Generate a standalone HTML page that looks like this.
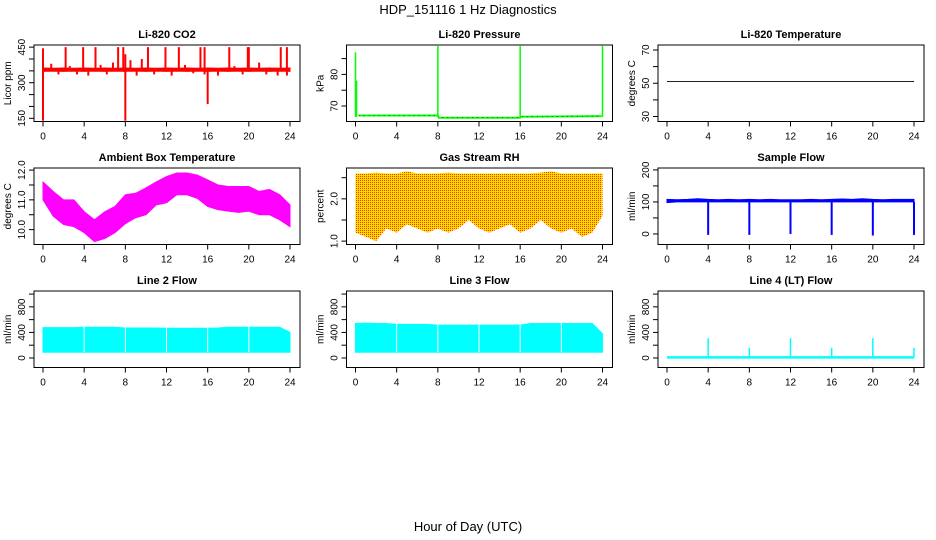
<!DOCTYPE html>
<html><head><meta charset="utf-8"><style>
body{margin:0;background:#fff;}
svg{display:block;font-family:"Liberation Sans",sans-serif;}
</style></head><body>
<svg id="c" width="936" height="540" viewBox="0 0 936 540">
<defs>
<pattern id="rhpat" width="2" height="2" patternUnits="userSpaceOnUse">
<rect width="2" height="2" fill="#ffdd00"/><rect width="1" height="1" fill="#ff3000"/>
</pattern>
</defs>
<text x="468" y="14" text-anchor="middle" font-size="13">HDP_151116  1 Hz Diagnostics</text>
<text x="468" y="531" text-anchor="middle" font-size="13">Hour of Day (UTC)</text>
</svg>
<script>
// ---- data ----
const hourTicks = [0,4,8,12,16,20,24];
const hours = [0,1,2,3,4,5,6,7,8,9,10,11,12,13,14,15,16,17,18,19,20,21,22,23,24];
// CO2
const co2Low = [348,349,348,349,348,349,348,349,348,349,348,349,348,349,348,349,348,349,348,349,348,349,348,349,348];
const co2High = [362,361,362,361,362,361,362,361,362,361,362,361,362,361,362,361,362,361,362,361,362,361,362,361,362];
const co2SpikeHours = [0.0,2.2,3.9,5.1,7.3,7.8,8.0,10.2,11.9,13.2,15.3,15.7,16.0,18.1,19.9,20.0,23.1,23.7];
const co2SpikeHigh = [445,450,450,450,450,450,420,450,450,450,450,450,360,450,450,450,450,450];
const co2SpikeLow = [140,355,355,355,355,350,140,355,355,355,355,335,210,355,355,355,355,330];
const co2MinorHours = [0.8,1.5,2.6,3.3,4.4,5.6,6.2,6.8,8.5,9.1,9.6,10.8,12.5,13.8,14.6,17.0,18.6,19.4,21.0,21.7,22.8];
const co2MinorVals = [380,335,370,335,330,375,335,385,395,330,400,335,330,375,340,330,370,335,385,335,330];
// Pressure
const presHours = [0.3,8.0,8.1,16.0,16.1,23.9];
const presVals = [67.0,67.0,66.3,66.3,66.6,66.8];
const presSpikeHours = [0.0,0.1,8.0,16.0,24.0];
const presSpikeVals = [87,78,89,89,89];
// Temperature
const tempHours = [0,24];
const tempVals = [51,51];
// Ambient
const ambLow = [11.0,10.45,10.17,10.1,9.9,9.6,9.7,9.9,10.2,10.4,10.5,10.83,10.9,11.17,11.17,11.05,10.78,10.67,10.62,10.58,10.62,10.5,10.5,10.33,10.1];
const ambHigh = [11.6,11.28,11.0,11.0,10.6,10.33,10.6,10.78,11.17,11.22,11.4,11.6,11.78,11.9,11.9,11.83,11.67,11.5,11.45,11.45,11.45,11.28,11.35,11.17,10.83];
// RH
const rhHigh = [2.6,2.6,2.62,2.6,2.6,2.65,2.6,2.6,2.6,2.62,2.6,2.6,2.6,2.6,2.6,2.6,2.6,2.6,2.62,2.65,2.6,2.6,2.6,2.6,2.6];
const rhLow = [1.2,1.1,1.0,1.3,1.2,1.4,1.3,1.2,1.3,1.2,1.3,1.5,1.3,1.2,1.3,1.4,1.2,1.3,1.5,1.3,1.2,1.3,1.1,1.2,1.6];
// Sample flow
const sfLow = [98,100,100,100,100,100,100,100,100,100,100,100,100,100,100,100,100,100,100,100,100,100,100,100,100];
const sfHigh = [108,107,108,110,108,107,108,107,108,107,108,107,107,107,108,107,108,109,108,110,108,107,108,108,108];
const sfDipHours = [4,8,12,16,20,24];
const sfDipVals = [-3,-3,0,-3,-5,-3];
// Line flows
const l2Top = [475,475,475,475,480,480,480,480,470,470,470,470,465,465,465,465,465,470,480,480,480,480,480,480,400];
const l2Bot = [90,90,90,90,90,90,90,90,90,90,90,90,90,90,90,90,90,90,90,90,90,90,90,90,90];
const l3Top = [540,545,540,540,525,525,525,525,515,515,515,515,515,515,515,515,515,540,540,540,540,540,540,540,380];
const l3Bot = [90,90,90,90,90,90,90,90,90,90,90,90,90,90,90,90,90,90,90,90,90,90,90,90,90];
const gapHours = [4,8,12,16,20];
const l4Base = 10;
const l4SpikeHours = [4,8,12,16,20,24];
const l4SpikeVals = [310,160,310,160,310,160];

// ---- drawing ----
const svg = document.getElementById('c');
const NS = 'http://www.w3.org/2000/svg';
function el(tag, attrs, name, parent){
  const e = document.createElementNS(NS, tag);
  for (const k in attrs) e.setAttribute(k, attrs[k]);
  
  
  (parent||svg).appendChild(e);
  return e;
}
const colLeft = [34, 346.5, 658];
const rowTop = [45, 168, 291];
const boxW = 266, boxH = 76.5;
function panel(col,row,key,title,ylab,ymin,ymax,ticks,labels){
  const L = colLeft[col], T = rowTop[row], B = T+boxH, R = L+boxW;
  const g = el('g',{},key+'-panel');
  const x = h => L + 9 + h*(247/24);
  const y = v => B - (v-ymin)/(ymax-ymin)*boxH;
  const plot = el('g',{},key+'-series',g);
  el('rect',{x:L,y:T,width:boxW,height:boxH,fill:'none',stroke:'#000','stroke-width':1},key+'-plot-box',g);
  const t = el('text',{x:(L+R)/2,y:T-7,'text-anchor':'middle','font-size':11,'font-weight':'bold'},key+'-title',g);
  t.textContent = title;
  hourTicks.forEach(h=>{
    el('line',{x1:x(h),x2:x(h),y1:B,y2:B+5,stroke:'#000'},key+'-x-tick',g);
    const tt = el('text',{x:x(h),y:B+18,'text-anchor':'middle','font-size':10},key+'-x-tick-label',g);
    tt.textContent = h;
  });
  ticks.forEach(v=>{
    el('line',{x1:L,x2:L-5,y1:y(v),y2:y(v),stroke:'#000'},key+'-y-tick',g);
  });
  labels.forEach(v=>{
    const tt = el('text',{transform:`translate(${L-9},${y(v)}) rotate(-90)`,'text-anchor':'middle','font-size':10},key+'-y-tick-label',g);
    tt.textContent = (key==='amb'||key==='rh') ? v.toFixed(1) : v;
  });
  const yl = el('text',{transform:`translate(${L-23},${(T+B)/2}) rotate(-90)`,'text-anchor':'middle','font-size':10},key+'-y-axis-title',g);
  yl.textContent = ylab;
  return {x,y,g:plot};
}
function band(p,hs,lo,hi,fill,name){
  let d = hs.map((h,i)=>(i?'L':'M')+p.x(h)+','+p.y(hi[i])).join('');
  for(let i=hs.length-1;i>=0;i--) d += 'L'+p.x(hs[i])+','+p.y(lo[i]);
  el('path',{d:d+'Z',fill:fill,stroke:fill==='url(#rhpat)'?'none':fill,'stroke-width':1},name,p.g);
}
function vline(p,h,v1,v2,color,name,w){
  el('line',{x1:p.x(h),x2:p.x(h),y1:p.y(v1),y2:p.y(v2),stroke:color,'stroke-width':w||1.5},name,p.g);
}

// CO2
let p = panel(0,0,'co2','Li-820 CO2','Licor ppm',136.6,459,[150,200,250,300,350,400,450],[150,300,450]);
band(p,hours,co2Low,co2High,'#ff0000','co2-band');
co2SpikeHours.forEach((h,i)=>vline(p,h,co2SpikeLow[i],co2SpikeHigh[i],'#ff0000','co2-spike',2));
co2MinorHours.forEach((h,i)=>vline(p,h,355,co2MinorVals[i],'#ff0000','co2-minor-spike',2));

// Pressure
p = panel(1,0,'pres','Li-820 Pressure','kPa',65.1,89.3,[70,75,80,85],[70,80]);
el('polyline',{points:presHours.map((h,i)=>p.x(h)+','+p.y(presVals[i])).join(' '),fill:'none',stroke:'#00ff00','stroke-width':2},'pressure-line',p.g);
el('polyline',{points:presHours.map((h,i)=>p.x(h)+','+p.y(presVals[i])).join(' '),fill:'none',stroke:'#000','stroke-width':0.5,'stroke-dasharray':'1,4'},'pressure-dotted-line',p.g);
presSpikeHours.forEach((h,i)=>{vline(p,h,66.5,presSpikeVals[i],'#00ff00','pressure-spike',1.5);});

// Temperature
p = panel(2,0,'temp','Li-820 Temperature','degrees C',27,73,[30,40,50,60,70],[30,50,70]);
el('polyline',{points:tempHours.map((h,i)=>p.x(h)+','+p.y(tempVals[i])).join(' '),fill:'none',stroke:'#000','stroke-width':0.8},'temperature-line',p.g);

// Ambient
p = panel(0,1,'amb','Ambient Box Temperature','degrees C',9.5,12.07,[10.0,10.5,11.0,11.5,12.0],[10.0,11.0,12.0]);
band(p,hours,ambLow,ambHigh,'#ff00ff','ambient-band');

// RH
p = panel(1,1,'rh','Gas Stream RH','percent',0.92,2.73,[1.0,1.5,2.0,2.5],[1.0,2.0]);
band(p,hours,rhLow,rhHigh,'url(#rhpat)','rh-band');

// Sample flow
p = panel(2,1,'sf','Sample Flow','ml/min',-33,206,[0,50,100,150,200],[0,100,200]);
band(p,hours,sfLow,sfHigh,'#0000ff','sample-flow-band');
sfDipHours.forEach((h,i)=>vline(p,h,sfDipVals[i],100,'#0000ff','sample-flow-dip',2));

// Line 2
p = panel(0,2,'l2','Line 2 Flow','ml/min',-149,1048,[0,200,400,600,800,1000],[0,400,800]);
band(p,hours,l2Bot,l2Top,'#00ffff','line2-band');
gapHours.forEach(h=>vline(p,h,l2Bot[h],l2Top[h]+5,'#fff','line2-gap',1));

// Line 3
p = panel(1,2,'l3','Line 3 Flow','ml/min',-149,1048,[0,200,400,600,800,1000],[0,400,800]);
band(p,hours,l3Bot,l3Top,'#00ffff','line3-band');
gapHours.forEach(h=>vline(p,h,l3Bot[h],l3Top[h]+5,'#fff','line3-gap',1));

// Line 4
p = panel(2,2,'l4','Line 4 (LT) Flow','ml/min',-149,1048,[0,200,400,600,800,1000],[0,400,800]);
el('line',{x1:p.x(0),x2:p.x(24),y1:p.y(l4Base),y2:p.y(l4Base),stroke:'#00ffff','stroke-width':2.5},'line4-baseline',p.g);
l4SpikeHours.forEach((h,i)=>vline(p,h,l4Base,l4SpikeVals[i],'#00ffff','line4-spike',1.5));
</script>
</body></html>
